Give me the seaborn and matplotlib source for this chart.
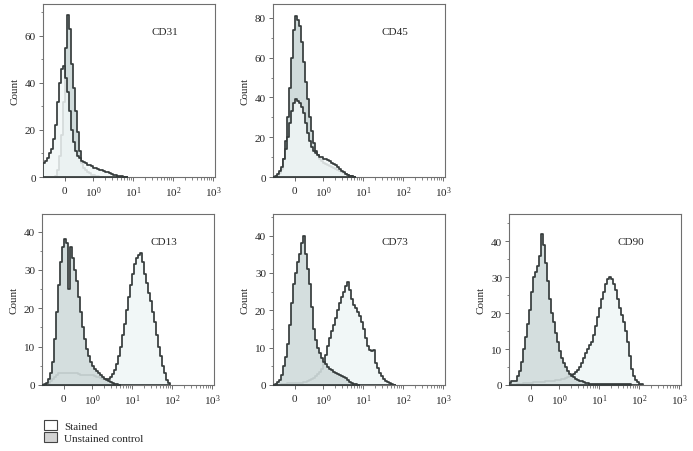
import numpy as np
import pandas as pd
import matplotlib
matplotlib.use('Agg')
import matplotlib.pyplot as plt
from matplotlib.patches import Patch
from matplotlib.ticker import AutoMinorLocator, MultipleLocator
from matplotlib.scale import SymmetricalLogTransform
import seaborn as sns

# counts per channel, channels are 0.05-decade wide starting at the left edge of the axis
cd31_stained = [6, 7, 8, 10, 12, 16, 22, 32, 40, 46, 47, 42, 36, 28, 20, 15, 11, 9, 8, 7,
                6.5, 6, 5, 5, 4.5, 4, 4, 3.5, 3, 3, 2.5, 2, 2, 1.5, 1.2, 1, 0.7, 0.5, 0.4, 0.3,
                0.2, 0.1]
cd31_unstained = [0, 0, 0, 0, 0, 0, 0.5, 3, 9, 18, 32, 55, 69, 63, 48, 38, 28, 19, 11, 6,
                  4, 3, 2, 1.5, 1, 0.7, 0.5, 0.3, 0.2, 0.1]

cd45_stained = [0, 0.5, 1.5, 3, 5, 9, 14, 20, 27, 33, 37, 39, 38, 37, 35, 32, 27, 22, 18, 15,
                13, 12, 11, 10, 10, 9, 9, 8.5, 8, 7, 6.5, 6, 5, 4, 3, 2.5, 1.5, 1, 0.6, 0.3,
                0.1]
cd45_unstained = [0, 0, 0.5, 2, 4, 9, 18, 30, 45, 60, 74, 81, 79, 76, 68, 58, 48, 39, 30, 23,
                  17, 13, 11, 9, 8, 7, 6.5, 6, 5.5, 5, 4.5, 4, 3.5, 3, 2.5, 2, 1.5, 1, 0.7, 0.4,
                  0.2]

cd13_stained = [0, 0, 0.2, 0.5, 1, 1.5, 2, 2.5, 3, 3, 3, 3, 3, 3, 3, 3, 3, 3, 2.8, 2.6,
                2.5, 2.5, 2.5, 2.5, 2.5, 2.5, 2.3, 2.2, 2, 1.8, 1.6, 1.5, 1.5, 1.6, 2, 2.8, 4, 5.5, 7.5, 10,
                13, 16, 19.5, 23, 26, 29, 31.5, 33, 34, 34.5, 32, 29, 26.5, 24, 22, 19, 16.5, 13, 10, 7.5,
                5, 3, 1.3, 0.4]
cd13_unstained = [0, 0.2, 0.5, 1.5, 3, 6, 12, 19, 26, 32, 36, 38, 37, 25, 36, 33, 30, 27, 23, 19,
                  15, 12, 9.5, 7.5, 6, 5, 4.3, 3.6, 3, 2.5, 2, 1.6, 1.3, 1, 0.8, 0.5, 0.3, 0.2, 0.1]

cd73_stained = [0, 0, 0, 0.1, 0.2, 0.3, 0.4, 0.5, 0.5, 0.5, 0.5, 0.5, 0.5, 0.6, 0.6, 0.7, 0.9, 1.1, 1.3, 1.6,
                2, 2.5, 3, 3.6, 4.3, 5.5, 8, 10.5, 12.5, 14.5, 16, 18, 20, 22, 23.5, 25, 26.5, 27.5, 25.5, 23,
                21.5, 20.5, 19.5, 18.5, 17, 15, 12.5, 10.5, 9.5, 9, 9.5, 6, 4.5, 3.3, 2.4, 1.7, 1.2, 0.8, 0.5, 0.2,
                0.1]
cd73_unstained = [0, 0.3, 0.7, 1.3, 2.8, 5, 7.5, 11, 16, 22, 27, 30, 33, 35, 38, 40, 35, 31, 27, 21,
                  15, 12, 10, 8.5, 7.3, 6.2, 5.5, 4.8, 4.3, 4, 3.6, 3.2, 3, 2.7, 2.5, 2.2, 1.8, 1.3, 0.9, 0.6,
                  0.4, 0.2, 0.1]

cd90_stained = [0, 0, 0, 0, 0.2, 0.3, 0.4, 0.5, 0.5, 0.6, 0.6, 0.6, 0.7, 0.7, 0.7, 0.8, 0.8, 0.9, 1, 1,
                1.1, 1.1, 1.2, 1.3, 1.4, 1.5, 1.6, 1.8, 2, 2.2, 2.4, 2.7, 3, 3.5, 4.2, 5, 6, 7.5, 9, 10,
                11, 12, 14, 16.5, 19, 21.5, 24, 26, 28, 29.5, 30, 29.5, 28, 26.5, 24, 21.5, 19.5, 17.5, 15, 12,
                8, 4.5, 2.6, 1.4, 0.8, 0.4, 0.2]
cd90_unstained = [0.5, 1, 1, 1.2, 2.5, 4, 6.5, 10, 13.5, 17, 21, 26, 30, 31.5, 33, 36, 42, 39, 34, 29,
                  24, 20, 17.5, 14.5, 12, 9.5, 7.5, 6, 5, 4, 3.2, 2.6, 2.2, 1.8, 1.5, 1.2, 1, 0.8, 0.6, 0.5,
                  0.4, 0.4, 0.3, 0.3, 0.3, 0.3, 0.3, 0.3, 0.3, 0.3, 0.3, 0.3, 0.3, 0.3, 0.3, 0.3, 0.2, 0.2, 0.2, 0.2,
                  0.2]

markers = ['CD31', 'CD45', 'CD13', 'CD73', 'CD90']
stained = [cd31_stained, cd45_stained, cd13_stained, cd73_stained, cd90_stained]
unstained = [cd31_unstained, cd45_unstained, cd13_unstained, cd73_unstained, cd90_unstained]
ymax = [73.5, 87, 44.6, 45.8, 47.6]
ymajor = [20, 20, 10, 10, 10]

# axis: symlog, 0..1 linear over 0.7 decade
LINSCALE = 0.63
inv = SymmetricalLogTransform(10, 1.0, LINSCALE).inverted()
step = 0.05
u0 = -0.55
n_ch = 80
u_edges = u0 + step * np.arange(n_ch + 1)
x_edges = inv.transform(u_edges)
x_centers = inv.transform(u_edges[:-1] + step / 2)
xlim = (inv.transform(np.array([u0]))[0], 10 ** 3.05)

sns.set_style('ticks')
plt.rcParams['font.family'] = ['Liberation Serif', 'DejaVu Serif']
plt.rcParams['mathtext.fontset'] = 'stix'
plt.rcParams['font.size'] = 8

fig = plt.figure(figsize=(6.93, 4.52), dpi=100)
positions = [
    [43 / 693, 1 - 178 / 452, 172 / 693, 173 / 452],
    [273 / 693, 1 - 178 / 452, 172 / 693, 173 / 452],
    [42 / 693, 1 - 386 / 452, 172 / 693, 171 / 452],
    [273 / 693, 1 - 386 / 452, 172 / 693, 171 / 452],
    [509 / 693, 1 - 386 / 452, 172 / 693, 171 / 452],
]

line_col = '#363c3c'
gray_fill = '#d0dbdb'
light_fill = '#f1f7f7'

for i, name in enumerate(markers):
    ax = fig.add_axes(positions[i])
    s = np.array(stained[i], dtype=float)
    u = np.array(unstained[i], dtype=float)
    top_row = i < 2
    draw = [('u', u), ('s', s)] if top_row else [('s', s), ('u', u)]
    for z, (kind, counts) in enumerate(draw):
        n = len(counts)
        if kind == 'u':
            fc = matplotlib.colors.to_rgba(gray_fill, 0.9 if not top_row else 1.0)
        else:
            fc = matplotlib.colors.to_rgba(light_fill, 0.85 if top_row else 1.0)
        df = pd.DataFrame({'x': x_centers[:n], 'w': counts})
        sns.histplot(data=df, x='x', weights='w', bins=list(x_edges[:n + 1]), element='step',
                     fill=True, facecolor=fc, edgecolor=line_col, linewidth=1.25, zorder=2 + z, ax=ax)
    # switch to the biexponential-like display only after seaborn has binned on a linear axis
    ax.set_xscale('symlog', base=10, linthresh=1.0, linscale=LINSCALE, subs=list(range(2, 10)))
    ax.set_xlim(*xlim)
    ax.set_ylim(0, ymax[i])
    ax.yaxis.set_major_locator(MultipleLocator(ymajor[i]))
    ax.yaxis.set_minor_locator(AutoMinorLocator(2))
    ax.set_xticks([0, 1, 10, 100, 1000])
    ax.set_ylabel('Count', fontsize=8, labelpad=4)
    ax.set_xlabel('')
    ax.text(0.71, 0.84, name, transform=ax.transAxes, ha='center', va='center', fontsize=8)
    for sp in ax.spines.values():
        sp.set_color('#6f6f6f')
        sp.set_linewidth(0.8)
    ax.tick_params(which='major', length=3, width=0.6, color='#555555', labelsize=8, pad=2)
    ax.tick_params(which='minor', length=1.8, width=0.5, color='#555555')

handles = [Patch(facecolor='white', edgecolor='#444444', linewidth=0.8),
           Patch(facecolor='#d3d3d3', edgecolor='#444444', linewidth=0.8)]
fig.legend(handles, ['Stained', 'Unstained control'], loc='upper left',
           bbox_to_anchor=(44 / 693, 1 - 421 / 452), frameon=False, fontsize=8,
           handlelength=1.2, handleheight=1.0, handletextpad=0.6, labelspacing=0.15,
           borderpad=0, borderaxespad=0)

fig.savefig('out.png', dpi=100)
